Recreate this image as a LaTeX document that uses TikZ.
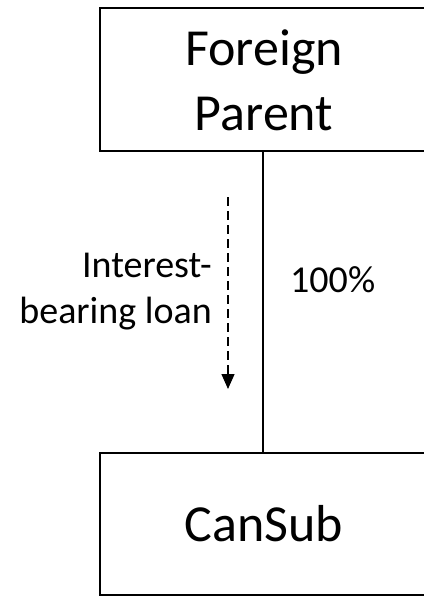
\documentclass[tikz,border=0pt]{standalone}
\usepackage{fontspec}
\setmainfont{Carlito}
\usetikzlibrary{arrows.meta}
\begin{document}
\begin{tikzpicture}[x=1pt,y=-1pt,
  entity/.style={draw, line width=2pt, rectangle, inner sep=0pt,
    minimum width=328pt, align=center,
    font=\fontsize{52}{65}\selectfont},
  owner/.style={line width=1.3pt},
  loan/.style={line width=1.3pt, dash pattern=on 9pt off 5pt,
    -{Triangle[length=15pt,width=13pt]}},
  lbl/.style={inner sep=0pt, font=\fontsize{38}{46}\selectfont}
]
\useasboundingbox (0,0) rectangle (423,596);

% entities
\node[entity, minimum height=143pt] (parent) at (264,80) {Foreign\\Parent};
\node[entity, minimum height=142pt] (cansub) at (264,524) {CanSub};

% ownership line
\draw[owner] ([xshift=-1pt]parent.south) -- ([xshift=-1pt]cansub.north);
\node[lbl, anchor=base west] (pct) at (290,292) {100\%};

% loan flow
\coordinate (loanstart) at (228,197);
\coordinate (loanend) at (228,389);
\draw[loan] (loanstart) -- (loanend);
\node[lbl, anchor=east, align=right] (loanlbl) at (212,292) {Interest-\\bearing loan};
\end{tikzpicture}
\end{document}
